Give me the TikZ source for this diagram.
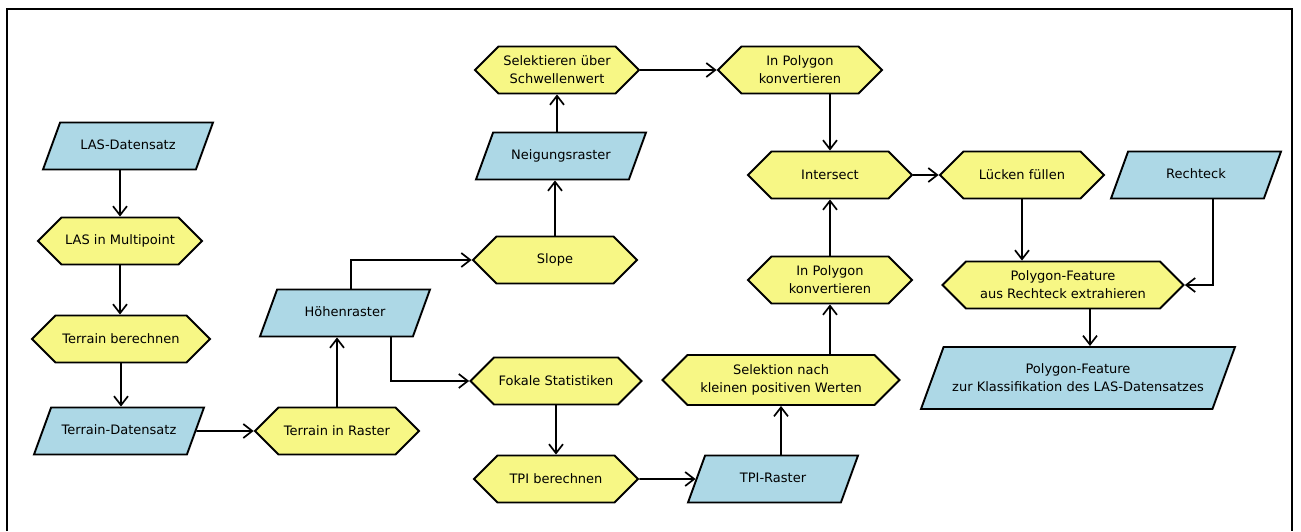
\documentclass[tikz,border=0pt]{standalone}
\usepackage{fontspec}
\setmainfont{DejaVu Sans}
\usetikzlibrary{shapes.geometric,shapes.symbols,arrows.meta}
\definecolor{datablue}{RGB}{173,216,230}
\definecolor{toolyellow}{RGB}{247,247,133}

\begin{document}
\begin{tikzpicture}[
  x=1pt, y=-1pt,
  datashape/.style={
    draw, line width=1.9pt, fill=datablue, trapezium,
    trapezium left angle=70, trapezium right angle=110,
    trapezium stretches body,
    minimum width=170pt, inner xsep=2pt, inner ysep=17pt,
    font=\fontsize{13}{18}\selectfont, align=center
  },
  databox/.style={datashape, text height=10pt, text depth=3pt},
  toolbox/.style={
    draw, line width=1.9pt, fill=toolyellow, signal,
    signal to=east and west, signal pointer angle=90,
    minimum width=164pt, minimum height=47pt,
    font=\fontsize{13}{18}\selectfont, align=center, inner sep=2pt
  },
  flow/.style={line width=1.7pt, -{Straight Barb[length=9pt,width=14pt]}},
]

\useasboundingbox (0,0) rectangle (1301,531);
\draw[line width=2.2pt] (7,531) -- (7,9) -- (1292,9) -- (1292,531);

\node[databox] (lasdata) at (128,146) {LAS-Datensatz};
\node[toolbox] (lasmp) at (120,241) {LAS in Multipoint};
\node[toolbox, minimum width=178pt] (terrber) at (121,339) {Terrain berechnen};
\node[databox] (terraindata) at (119,431) {Terrain-Datensatz};
\node[toolbox] (terrraster) at (337,431) {Terrain in Raster};
\node[databox] (hoehe) at (345,313) {Höhenraster};

\node[toolbox] (slope) at (555,260) {Slope};
\node[databox] (neigung) at (561,156) {Neigungsraster};
\node[toolbox] (selschw) at (557,70) {Selektieren über\\Schwellenwert};
\node[toolbox, minimum width=171pt] (fokal) at (556,381) {Fokale Statistiken};
\node[toolbox] (tpiber) at (556,479) {TPI berechnen};

\node[toolbox] (ipoly1) at (800,70) {In Polygon\\konvertieren};
\node[toolbox] (isect) at (830,175) {Intersect};
\node[toolbox] (ipoly2) at (830,280) {In Polygon\\konvertieren};
\node[toolbox, minimum width=237pt, minimum height=50pt] (selklein) at (781,380)
  {Selektion nach\\kleinen positiven Werten};
\node[databox] (tpiraster) at (773,479) {TPI-Raster};

\node[toolbox] (luecken) at (1022,175) {Lücken füllen};
\node[databox] (rechteck) at (1196,175) {Rechteck};
\node[toolbox, minimum width=241pt] (pfextr) at (1063,285)
  {Polygon-Feature\\aus Rechteck extrahieren};
\node[datashape, minimum width=314pt] (pfklass) at (1078,378)
  {Polygon-Feature\\zur Klassifikation des LAS-Datensatzes};

\draw[flow] (lasmp.north |- lasdata.south) -- (lasmp.north);
\draw[flow] (lasmp.south) -- (lasmp.south |- terrber.north);
\draw[flow] (terrber.south) -- (terrber.south |- terraindata.north);
\draw[flow] (terraindata.east) -- (terrraster.west);
\draw[flow] (terrraster.north) -- (terrraster.north |- hoehe.south);
\draw[flow] ([xshift=6pt]hoehe.north) |- (slope.west);
\draw[flow] ([xshift=46pt]hoehe.south) |- (fokal.west);
\draw[flow] (slope.north) -- (slope.north |- neigung.south);
\draw[flow] (selschw.south |- neigung.north) -- (selschw.south);
\draw[flow] (selschw.east) -- (ipoly1.west);
\draw[flow] (isect.north |- ipoly1.south) -- (isect.north);
\draw[flow] (ipoly2.north) -- (isect.south);
\draw[flow] (ipoly2.south |- selklein.north) -- (ipoly2.south);
\draw[flow] (fokal.south) -- (tpiber.north);
\draw[flow] (tpiber.east) -- (tpiraster.west);
\draw[flow] (selklein.south |- tpiraster.north) -- (selklein.south);
\draw[flow] (isect.east) -- (luecken.west);
\draw[flow] (luecken.south) -- (luecken.south |- pfextr.north);
\draw[flow] ([xshift=17pt]rechteck.south) |- (pfextr.east);
\draw[flow] ([xshift=27pt]pfextr.south) -- ([xshift=27pt]pfextr.south |- pfklass.north);

\end{tikzpicture}
\end{document}
